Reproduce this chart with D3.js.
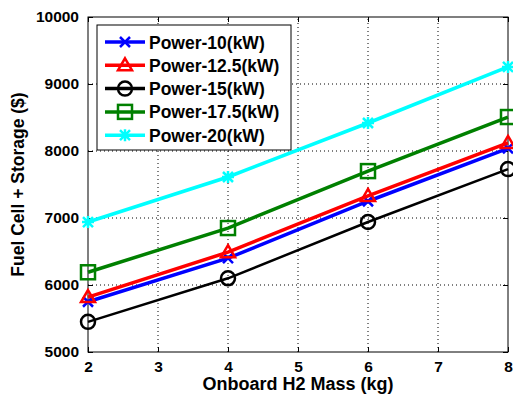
<!DOCTYPE html>
<html>
<head>
<meta charset="utf-8">
<script src="https://cdn.jsdelivr.net/npm/d3@7"></script>
<style>
  body { margin: 0; background: #fff; }
  text { font-family: "Liberation Sans", Arial, sans-serif; font-weight: bold; }
</style>
</head>
<body>
<svg id="chart" width="513" height="401"></svg>
<script>
// data
const masses = [2, 4, 6, 8]
const power10 = [5750, 6400, 7250, 8040]
const power125 = [5820, 6490, 7330, 8120]
const power15 = [5450, 6100, 6940, 7730]
const power175 = [6190, 6850, 7700, 8507]
const power20 = [6940, 7612, 8418, 9254]
const xTicks = [2, 3, 4, 5, 6, 7, 8]
const yTicks = [5000, 6000, 7000, 8000, 9000, 10000]

const series = [
  { name: "Power-10(kW)", values: power10, color: "#0000ff", marker: "x" },
  { name: "Power-12.5(kW)", values: power125, color: "#ff0000", marker: "triangle" },
  { name: "Power-15(kW)", values: power15, color: "#000000", marker: "circle" },
  { name: "Power-17.5(kW)", values: power175, color: "#008000", marker: "square" },
  { name: "Power-20(kW)", values: power20, color: "#00ffff", marker: "star" }
]

const margins = { top: 17, right: 5, bottom: 49, left: 88 }
const width = 513, height = 401
const svg = d3.select("#chart")

const x = d3.scaleLinear().domain([2, 8]).range([margins.left, width - margins.right])
const y = d3.scaleLinear().domain([5000, 10000]).range([height - margins.bottom, margins.top])

// grid
svg.append("g").selectAll("line").data(xTicks.slice(1, -1)).join("line")
  .attr("x1", d => x(d)).attr("x2", d => x(d))
  .attr("y1", y(5000)).attr("y2", y(10000))
  .attr("stroke", "#000").attr("stroke-width", 1).attr("stroke-dasharray", "1,3")
svg.append("g").selectAll("line").data(yTicks.slice(1, -1)).join("line")
  .attr("y1", d => y(d)).attr("y2", d => y(d))
  .attr("x1", x(2)).attr("x2", x(8))
  .attr("stroke", "#000").attr("stroke-width", 1).attr("stroke-dasharray", "1,3")

// axes (ticks inward)
const axisStyle = g => {
  g.select(".domain").remove()
  g.selectAll("text").attr("font-size", "15.5px").attr("fill", "#000")
  g.selectAll("line").attr("stroke", "#000")
}
svg.append("g").attr("transform", `translate(0,${y(5000)})`)
  .call(d3.axisBottom(x).tickValues(xTicks).tickSize(-5).tickPadding(9).tickFormat(d3.format("d")))
  .call(axisStyle)
svg.append("g").attr("transform", `translate(0,${y(10000)})`)
  .call(d3.axisTop(x).tickValues(xTicks).tickSize(-5).tickFormat(""))
  .call(axisStyle)
svg.append("g").attr("transform", `translate(${x(2)},0)`)
  .call(d3.axisLeft(y).tickValues(yTicks).tickSize(-5).tickPadding(9).tickFormat(d3.format("d")))
  .call(axisStyle)
svg.append("g").attr("transform", `translate(${x(8)},0)`)
  .call(d3.axisRight(y).tickValues(yTicks).tickSize(-5).tickFormat(""))
  .call(axisStyle)

svg.append("rect")
  .attr("x", x(2)).attr("y", y(10000))
  .attr("width", x(8) - x(2)).attr("height", y(5000) - y(10000))
  .attr("fill", "none").attr("stroke", "#000").attr("stroke-width", 1)

// markers
function drawMarker(g, type, color) {
  const lw = 2.5
  if (type === "x") {
    g.append("path").attr("d", "M-5,-5L5,5M-5,5L5,-5").attr("stroke", color).attr("stroke-width", lw)
  } else if (type === "triangle") {
    g.append("path").attr("d", "M0,-7L7,5L-7,5Z").attr("fill", "none").attr("stroke", color).attr("stroke-width", lw)
  } else if (type === "circle") {
    g.append("circle").attr("r", 7).attr("fill", "none").attr("stroke", color).attr("stroke-width", lw)
  } else if (type === "square") {
    g.append("rect").attr("x", -7).attr("y", -7).attr("width", 14).attr("height", 14)
      .attr("fill", "none").attr("stroke", color).attr("stroke-width", lw)
  } else if (type === "star") {
    g.append("path").attr("d", "M-6,0L6,0M0,-6L0,6M-5,-5L5,5M-5,5L5,-5").attr("stroke", color).attr("stroke-width", lw)
  }
}

const line = d3.line().x((d, i) => x(masses[i])).y(d => y(d))

series.forEach(s => {
  svg.append("path").datum(s.values)
    .attr("d", line).attr("fill", "none")
    .attr("stroke", s.color).attr("stroke-width", s.marker === "circle" ? 2.5 : 3.5)
  s.values.forEach((v, i) => {
    const g = svg.append("g").attr("transform", `translate(${x(masses[i])},${y(v)})`)
    drawMarker(g, s.marker, s.color)
  })
})

// legend
const legend = svg.append("g").attr("transform", "translate(97,25)")
legend.append("rect").attr("width", 194).attr("height", 125)
  .attr("fill", "#fff").attr("stroke", "#000").attr("stroke-width", 1)
series.forEach((s, i) => {
  const ry = 17 + i * 23.3
  legend.append("line").attr("x1", 8).attr("x2", 48).attr("y1", ry).attr("y2", ry)
    .attr("stroke", s.color).attr("stroke-width", 3.5)
  drawMarker(legend.append("g").attr("transform", `translate(28,${ry})`), s.marker, s.color)
  legend.append("text").attr("x", 52).attr("y", ry + 6.5)
    .attr("font-size", "17.5px").attr("fill", "#000").text(s.name)
})

// axis labels
svg.append("text").attr("x", x(5)).attr("y", 390).attr("text-anchor", "middle")
  .attr("font-size", "18px").text("Onboard H2 Mass (kg)")
svg.append("text").attr("transform", `translate(24,${y(7500)}) rotate(-90)`)
  .attr("text-anchor", "middle").attr("font-size", "17.5px").text("Fuel Cell + Storage ($)")
</script>
</body>
</html>
